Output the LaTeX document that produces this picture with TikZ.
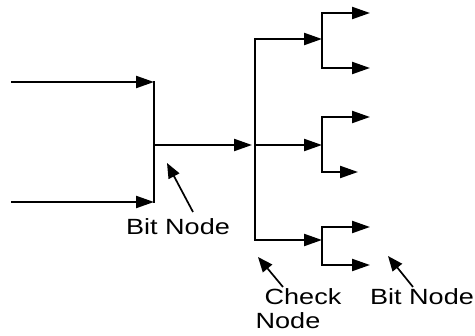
\documentclass[tikz,border=0pt]{standalone}
\usepackage{fontspec}
\setmainfont{Liberation Sans}
\usetikzlibrary{arrows.meta}
\tikzset{
  wire/.style={line width=2.2pt, line cap=rect},
  flow/.style={wire, -{Triangle[length=18pt,width=12pt]}},
  note/.style={line width=1.7pt, -{Triangle[length=15pt,width=12pt]}},
  lbl/.style={anchor=base, inner sep=0pt, font=\fontsize{22}{26}\selectfont}
}
\newcommand{\wide}[1]{\scalebox{1.23}[1]{#1}}
\begin{document}
\begin{tikzpicture}[x=1pt,y=-1pt]
\useasboundingbox (0,0) rectangle (475,336);
% bit node (left)
\coordinate (in1) at (12,82);
\coordinate (in2) at (12,202);
\coordinate (bt) at (154,82);
\coordinate (bb) at (154,202);
\coordinate (bm) at (154,145);
% check node
\coordinate (ct) at (255,39);
\coordinate (cm) at (255,145);
\coordinate (cb) at (255,240);
% right bit nodes
\coordinate (r1t) at (322,13);
\coordinate (r1m) at (322,39);
\coordinate (r1b) at (322,68);
\coordinate (r2t) at (322,117);
\coordinate (r2m) at (322,145);
\coordinate (r2b) at (322,172);
\coordinate (r3t) at (322,227);
\coordinate (r3m) at (322,240);
\coordinate (r3b) at (322,265);
% outputs
\coordinate (o1) at (370,13);
\coordinate (o2) at (370,68);
\coordinate (o3) at (370,117);
\coordinate (o4) at (358,172);
\coordinate (o5) at (370,227);
\coordinate (o6) at (370,265);

\draw[flow] (in1) -- (bt);
\draw[flow] (in2) -- (bb);
\draw[wire] (bt) -- (bb);
\draw[flow, shorten >=3pt] (bm) -- (cm);
\draw[wire] (ct) -- (cb);
\draw[flow] (ct) -- (r1m);
\draw[flow] (cm) -- (r2m);
\draw[flow] (cb) -- (r3m);
\draw[wire] (r1t) -- (r1b);
\draw[wire] (r2t) -- (r2b);
\draw[wire] (r3t) -- (r3b);
\draw[flow] (r1t) -- (o1);
\draw[flow] (r1b) -- (o2);
\draw[flow] (r2t) -- (o3);
\draw[flow] (r2b) -- (o4);
\draw[flow] (r3t) -- (o5);
\draw[flow] (r3b) -- (o6);

% labels
\node[lbl] (lb1) at (178,235) {\wide{Bit Node}};
\node[lbl] (lc1) at (303,305) {\wide{Check}};
\node[lbl] (lc2) at (288,329) {\wide{Node}};
\node[lbl] (lb2) at (422,305) {\wide{Bit Node}};

\coordinate (a1s) at (193,212);
\coordinate (a1e) at (167,163);
\coordinate (a2s) at (283,287);
\coordinate (a2e) at (258,257);
\coordinate (a3s) at (413,287);
\coordinate (a3e) at (388,256);
\draw[note] (a1s) -- (a1e);
\draw[note] (a2s) -- (a2e);
\draw[note] (a3s) -- (a3e);
\end{tikzpicture}
\end{document}
